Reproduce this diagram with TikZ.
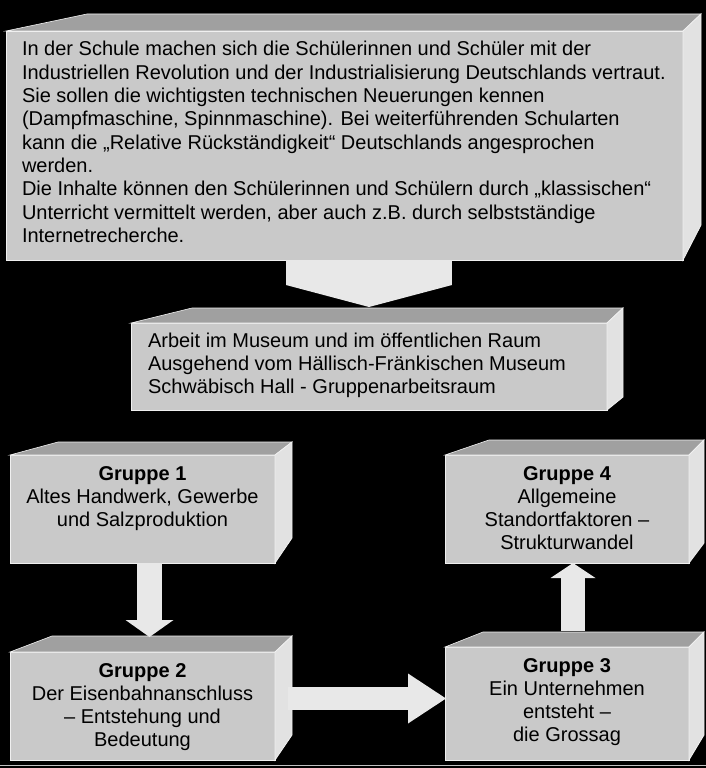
\documentclass[tikz,border=0pt]{standalone}
\usepackage{fontspec}
\setmainfont{Liberation Sans}
\usetikzlibrary{calc,arrows.meta}
\definecolor{frontc}{HTML}{C9C9C9}
\definecolor{topc}{HTML}{A0A0A0}
\definecolor{sidec}{HTML}{E2E2E2}
\definecolor{arrowc}{HTML}{E8E8E8}
\definecolor{edgec}{HTML}{F0F0F0}
\newcommand{\cubefaces}[5]{%
  \filldraw[fill=topc, draw=edgec, line width=0.6pt] (#1.north west) -- ($(#1.north west)+(#2,-#4)$) -- ($(#1.north east)+(#3,-#4)$) -- (#1.north east) -- cycle;
  \filldraw[fill=sidec, draw=edgec, line width=0.8pt] (#1.north east) -- ($(#1.north east)+(#3,-#4)$) -- ($(#1.south east)+(#3,-#5)$) -- (#1.south east) -- cycle;
}
\newcommand{\ctext}[1]{\parbox[t]{240pt}{\centering #1}}
\begin{document}
\begin{tikzpicture}[x=1pt, y=-1pt,
  face/.style={rectangle, fill=frontc, draw=edgec, line width=0.8pt, inner sep=0pt, outer sep=0pt, anchor=north west},
  txt/.style={inner sep=0pt, outer sep=0pt, anchor=base, font=\fontsize{20pt}{23.3pt}\selectfont, text=black},
  blockarrow/.style={draw=arrowc}]
\fill[black] (0,0) rectangle (706,768);
\useasboundingbox (0,0) rectangle (706,768);
\draw[edgec!80!black, line width=1pt] (0,765) -- (706,765);

% front faces
\node[face, minimum width=677pt, minimum height=229pt] (top) at (6,31) {};
\node[face, minimum width=476pt, minimum height=87pt] (mus) at (131,323) {};
\node[face, minimum width=265pt, minimum height=108pt] (g1) at (10,455) {};
\node[face, minimum width=265pt, minimum height=108pt] (g2) at (10,652) {};
\node[face, minimum width=244pt, minimum height=108pt] (g4) at (445,455) {};
\node[face, minimum width=244pt, minimum height=113pt] (g3) at (445,647) {};

% 3D faces
\cubefaces{top}{81}{18}{17}{35}
\cubefaces{mus}{61}{16}{15}{13}
\cubefaces{g1}{48}{17}{13}{25}
\cubefaces{g2}{42}{17}{16}{25}
\cubefaces{g4}{44}{15}{15}{20}
\cubefaces{g3}{38}{15}{15}{25}

% texts
\node[txt, anchor=base west] (toptext) at ($(top.north west)+(16,25)$) {\parbox[t]{670pt}{\raggedright
In der Schule machen sich die Schülerinnen und Schüler mit der\\
Industriellen Revolution und der Industrialisierung Deutschlands vertraut.\\
Sie sollen die wichtigsten technischen Neuerungen kennen\\
(Dampfmaschine, Spinnmaschine). Bei weiterführenden Schularten\\
kann die „Relative Rückständigkeit“ Deutschlands angesprochen\\
werden.\\
Die Inhalte können den Schülerinnen und Schülern durch „klassischen“\\
Unterricht vermittelt werden, aber auch z.B. durch selbstständige\\
Internetrecherche.}};
\node[txt, anchor=base west] (mustext) at ($(mus.north west)+(17,24)$) {\parbox[t]{460pt}{\raggedright
Arbeit im Museum und im öffentlichen Raum\\
Ausgehend vom Hällisch-Fränkischen Museum\\
Schwäbisch Hall - Gruppenarbeitsraum}};
\node[txt] (g1text) at ($(g1.north)+(0,25)$) {\ctext{\textbf{Gruppe 1}\\Altes Handwerk, Gewerbe\\und Salzproduktion}};
\node[txt] (g2text) at ($(g2.north)+(0,25)$) {\ctext{\textbf{Gruppe 2}\\Der Eisenbahnanschluss\\– Entstehung und\\Bedeutung}};
\node[txt] (g3text) at ($(g3.north)+(0,25)$) {\ctext{\textbf{Gruppe 3}\\Ein Unternehmen\\entsteht –\\die Grossag}};
\node[txt] (g4text) at ($(g4.north)+(0,25)$) {\ctext{\textbf{Gruppe 4}\\Allgemeine\\Standortfaktoren –\\Strukturwandel}};

% block arrows
\draw[blockarrow, line width=166pt, -{Triangle[width=166pt,length=22pt,line width=0pt]}]
  (top.south -| mus.north) -- ($(mus.north)+(0,-16)$);
\draw[blockarrow, line width=25pt, -{Triangle[width=48pt,length=17pt,line width=0pt]}]
  ([xshift=7pt]g1.south) -- ([xshift=7pt,yshift=15pt]g2.north);
\coordinate (a23) at ([xshift=13pt,yshift=7.5pt]g2.east);
\draw[blockarrow, line width=23pt, -{Triangle[width=50pt,length=38pt,line width=0pt]}]
  (a23) -- ([xshift=1pt]a23 -| g3.west);
\draw[blockarrow, line width=24pt, -{Triangle[width=45pt,length=15pt,line width=0pt]}]
  ([xshift=6pt,yshift=16pt]g3.north) -- ([xshift=6pt]g4.south);
\end{tikzpicture}
\end{document}
